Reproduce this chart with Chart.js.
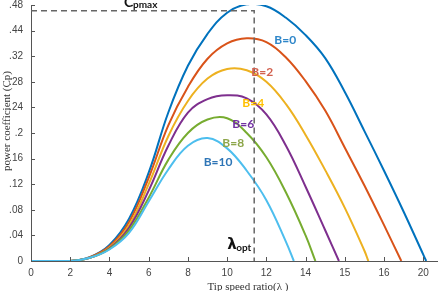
<!DOCTYPE html>
<html>
<head>
<meta charset="utf-8">
<script src="https://cdn.jsdelivr.net/npm/chart.js@4"></script>
<style>
  html, body { margin: 0; padding: 0; background: #fff; }
  canvas { display: block; }
</style>
</head>
<body>
<canvas id="cpChart" width="439" height="291"></canvas>
<script>
// Cp-lambda curves for several pitch angles B

const xTickLabels = ['0', '2', '4', '6', '8', '10', '12', '14', '15', '16', '20'];
const yTickLabels = ['0', '.04', '.08', '.12', '.16', '.2', '.24', '.28', '.32', '.44', '.48'];

const pitchLabels = ['B=0', 'B=2', 'B=4', 'B=6', 'B=8', 'B=10'];

// [tip speed ratio, Cp] pairs
const cpB0 = [[0, 0], [2, 0], [3, 0.006], [4, 0.025], [5, 0.066], [6, 0.138], [7, 0.232],
  [8, 0.305], [9, 0.355], [10, 0.388], [11, 0.401], [12, 0.398], [13, 0.380], [14, 0.353],
  [15, 0.317], [16, 0.264], [17, 0.203], [18, 0.141], [19, 0.077], [20, 0.010], [20.15, 0]];
const cpB2 = [[0, 0], [2, 0], [3, 0.006], [4, 0.023], [5, 0.061], [6, 0.130], [7, 0.212],
  [8, 0.272], [9, 0.316], [10, 0.340], [11, 0.348], [12, 0.342], [13, 0.318], [14, 0.281],
  [15, 0.235], [16, 0.177], [17, 0.118], [18, 0.056], [18.88, 0]];
const cpB4 = [[0, 0], [2, 0], [3, 0.005], [4, 0.021], [5, 0.056], [6, 0.120], [7, 0.195],
  [8, 0.250], [9, 0.285], [10, 0.300], [11, 0.298], [12, 0.280], [13, 0.245], [14, 0.197],
  [15, 0.142], [16, 0.083], [17, 0.016], [17.2, 0]];
const cpB6 = [[0, 0], [2, 0], [3, 0.005], [4, 0.020], [5, 0.052], [6, 0.110], [7, 0.180],
  [8, 0.232], [9, 0.253], [10, 0.259], [11, 0.254], [12, 0.229], [13, 0.180], [14, 0.116],
  [15, 0.048], [15.7, 0]];
const cpB8 = [[0, 0], [2, 0], [3, 0.005], [4, 0.019], [5, 0.048], [6, 0.099], [7, 0.158],
  [8, 0.200], [9, 0.221], [10, 0.223], [11, 0.200], [12, 0.162], [13, 0.107], [14, 0.040],
  [14.5, 0]];
const cpB10 = [[0, 0], [2, 0], [3, 0.005], [4, 0.018], [5, 0.044], [6, 0.093], [7, 0.143],
  [8, 0.180], [9, 0.192], [10, 0.176], [11, 0.141], [12, 0.095], [13, 0.030], [13.4, 0]];

const cpSeries = [cpB0, cpB2, cpB4, cpB6, cpB8, cpB10];

// maximum point marked by the dashed guides
const cpMax = 0.391;
const lambdaOpt = 11.38;

const lineColors = ['#0072BD', '#D95319', '#EDB120', '#7E2F8E', '#77AC30', '#4DBEEE'];
const labelColors = ['#2E86C9', '#D2604E', '#FFC000', '#7030A0', '#8DA64A', '#2E75B6'];
// where each B= label sits, in axis units
const labelX = [12.96, 11.79, 11.33, 10.82, 10.31, 9.54];
const labelY = [0.345, 0.295, 0.247, 0.214, 0.184, 0.155];

const datasets = cpSeries.map((s, i) => ({
  label: pitchLabels[i],
  data: s.map(p => ({ x: p[0], y: p[1] })),
  borderColor: lineColors[i],
  borderWidth: 2,
  pointRadius: 0,
  tension: 0.4,
  order: cpSeries.length - i
}));

datasets.push({
  label: 'cpmax',
  data: [{ x: 0, y: cpMax }, { x: lambdaOpt, y: cpMax }, { x: lambdaOpt, y: 0 }],
  borderColor: '#666',
  borderWidth: 1.5,
  borderDash: [6, 4],
  pointRadius: 0,
  tension: 0,
  order: -1
});

const decorPlugin = {
  id: 'decor',
  afterDraw(chart) {
    const { ctx, chartArea } = chart;
    const xs = chart.scales.x;
    const ys = chart.scales.y;
    ctx.save();

    // inward tick marks
    ctx.strokeStyle = '#555';
    ctx.lineWidth = 1;
    ctx.beginPath();
    xs.ticks.forEach(t => {
      const px = Math.round(xs.getPixelForValue(t.value)) + 0.5;
      ctx.moveTo(px, chartArea.bottom);
      ctx.lineTo(px, chartArea.bottom - 4);
    });
    ys.ticks.forEach(t => {
      const py = Math.round(ys.getPixelForValue(t.value)) + 0.5;
      ctx.moveTo(chartArea.left, py);
      ctx.lineTo(chartArea.left + 4, py);
    });
    ctx.stroke();

    // B= labels
    ctx.font = 'bold 12px Lato';
    ctx.textAlign = 'center';
    ctx.textBaseline = 'middle';
    pitchLabels.forEach((txt, i) => {
      ctx.fillStyle = labelColors[i];
      ctx.fillText(txt, xs.getPixelForValue(labelX[i]), ys.getPixelForValue(labelY[i]));
    });

    // C_pmax and lambda_opt
    ctx.fillStyle = '#111';
    ctx.textAlign = 'left';
    ctx.textBaseline = 'alphabetic';
    ctx.font = 'bold 14px Lato';
    ctx.fillText('C', 124, 7);
    ctx.font = 'bold 10px Lato';
    ctx.fillText('pmax', 133, 8);

    const lx = xs.getPixelForValue(lambdaOpt);
    ctx.font = 'bold 15px "DejaVu Sans"';
    ctx.fillText('λ', lx - 27, 249);
    ctx.font = 'bold 10px Lato';
    ctx.fillText('opt', lx - 18, 251);

    // axis titles
    ctx.fillStyle = '#333';
    ctx.font = '11px "Liberation Serif"';
    ctx.textAlign = 'center';
    ctx.textBaseline = 'middle';
    ctx.fillText('Tip speed ratio(λ )', 248, 287);
    ctx.translate(7, 121);
    ctx.rotate(-Math.PI / 2);
    ctx.fillText('power coefficient (Cp)', 0, 0);
    ctx.restore();
  }
};

new Chart(document.getElementById('cpChart'), {
  type: 'line',
  data: { datasets: datasets },
  plugins: [decorPlugin],
  options: {
    responsive: false,
    animation: false,
    layout: { padding: { top: 5, right: 2, left: 0, bottom: 0 } },
    plugins: {
      legend: { display: false },
      tooltip: { enabled: false }
    },
    scales: {
      x: {
        type: 'linear',
        min: 0,
        max: 20.7,
        afterBuildTicks: scale => {
          scale.ticks = xTickLabels.map((l, i) => ({ value: i * 2 }));
        },
        afterFit: scale => {
          scale.height = 30;
          scale.paddingLeft = 0;
          scale.paddingRight = 0;
        },
        ticks: {
          color: '#444',
          font: { family: 'Liberation Sans', size: 10 },
          padding: 6,
          maxRotation: 0,
          callback: (v, i) => xTickLabels[i]
        },
        grid: { display: false, drawTicks: false },
        border: { display: true, color: '#555', width: 1 }
      },
      y: {
        type: 'linear',
        min: 0,
        max: 0.4,
        afterBuildTicks: scale => {
          scale.ticks = yTickLabels.map((l, i) => ({ value: i * 0.04 }));
        },
        afterFit: scale => {
          scale.width = 31;
          scale.paddingTop = 0;
          scale.paddingBottom = 0;
        },
        ticks: {
          color: '#444',
          font: { family: 'Liberation Sans', size: 10 },
          padding: 8,
          callback: (v, i) => yTickLabels[i]
        },
        grid: { display: false, drawTicks: false },
        border: { display: true, color: '#555', width: 1 }
      }
    }
  }
});
</script>
</body>
</html>
